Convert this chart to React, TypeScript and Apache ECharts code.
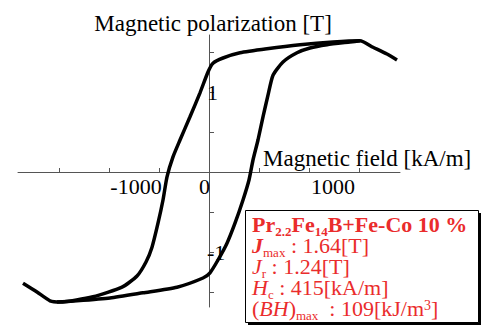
import React, { useEffect, useRef } from "react";
import * as echarts from "echarts";

// Magnetic field H [kA/m] and polarization J [T]
const descH = [1880, 1780, 1640, 1510, 1240, 910, 580, 310, 140, 40, -10, -90, -190, -290, -360, -420, -460, -510, -570, -630, -720, -870, -1160, -1490, -1590, -1720, -1860];
const descJ = [1.40, 1.475, 1.56, 1.64, 1.625, 1.59, 1.54, 1.49, 1.425, 1.36, 1.25, 0.99, 0.69, 0.40, 0.19, -0.06, -0.35, -0.64, -0.94, -1.125, -1.30, -1.44, -1.56, -1.625, -1.61, -1.50, -1.39];
const ascH = [-1520, -1320, -990, -660, -320, -60, 10, 90, 180, 260, 340, 400, 440, 490, 540, 590, 640, 740, 880, 1010, 1180, 1410, 1510];
const ascJ = [-1.625, -1.61, -1.575, -1.51, -1.44, -1.325, -1.26, -1.10, -0.89, -0.64, -0.35, -0.10, 0.15, 0.40, 0.69, 0.96, 1.21, 1.375, 1.49, 1.55, 1.59, 1.625, 1.64];

const xTicks = [-1500, -1000, -500, 0, 500, 1000, 1500];
const xLabels = [-1000, 0, 1000];
const yTicks = [-1.5, -1, -0.5, 0, 0.5, 1, 1.5];
const yLabels = [-1, 1];

const material = { a: "Pr", aSub: "2.2", b: "Fe", bSub: "14", rest: "B+Fe-Co 10 %" };
const jmax = "1.64[T]";
const jr = "1.24[T]";
const hc = "415[kA/m]";
const bhmax = "109[kJ/m";

const SERIF = "'Liberation Serif', 'Times New Roman', serif";
const RED = "#ea2c2c";

export default function App() {
  const ref = useRef<HTMLDivElement>(null);
  useEffect(() => {
    if (!ref.current) return;
    const chart = echarts.init(ref.current, undefined, { renderer: "svg" });
    const toPairs = (h: number[], j: number[]) => h.map((v, i) => [v, j[i]]);
    const base = { fontFamily: SERIF, fontSize: 22, fill: RED, lineHeight: 21 };
    const sub = { ...base, fontSize: 13, padding: [14, 0, 0, 0] };
    const text =
      `{b|${material.a}}{bs|${material.aSub}}{b|${material.b}}{bs|${material.bSub}}{b|${material.rest}}\n` +
      `{bi|J}{s|max}{n| : ${jmax}}\n` +
      `{i|J}{s|r}{n| : ${jr}}\n` +
      `{i|H}{s|c}{n| : ${hc}}\n` +
      `{n|(}{i|BH}{n|)}{s|max}{n|  : ${bhmax}}{sup|3}{n|]}`;
    chart.setOption({
      animation: false,
      grid: { left: 18, right: 91, top: 35, bottom: 18, outerBoundsMode: "none" },
      xAxis: {
        type: "value",
        min: -1910,
        max: 1910,
        position: "bottom",
        offset: -135,
        name: "Magnetic field [kA/m]",
        nameLocation: "end",
        nameGap: -137,
        nameTextStyle: { fontFamily: SERIF, fontSize: 23, color: "#000", align: "left", verticalAlign: "bottom", padding: [0, 0, 2, 0] },
        axisLine: { onZero: false, lineStyle: { color: "#555", width: 1 } },
        axisTick: { show: true, inside: true, length: 4, customValues: xTicks, lineStyle: { color: "#555" } },
        axisLabel: {
          customValues: xLabels,
          margin: 3,
          fontFamily: SERIF,
          fontSize: 22,
          color: "#000",
          formatter: (v: number) => (v === 0 ? `{z|${v}}` : v < 0 ? `{m|${v}}` : `{p|${v}}`),
          rich: {
            z: { fontFamily: SERIF, fontSize: 22, color: "#000", padding: [0, 9, 0, 0] },
            m: { fontFamily: SERIF, fontSize: 22, color: "#000", padding: [0, 0, 0, 54] },
            p: { fontFamily: SERIF, fontSize: 22, color: "#000", padding: [0, 0, 0, 48] },
          },
        },
        splitLine: { show: false },
      },
      yAxis: {
        type: "value",
        min: -1.6875,
        max: 1.7125,
        position: "left",
        offset: -191,
        name: "Magnetic polarization [T]",
        nameLocation: "end",
        nameGap: 0,
        nameTextStyle: { fontFamily: SERIF, fontSize: 23, color: "#000", padding: [0, 0, 0, 8] },
        axisLine: { onZero: false, lineStyle: { color: "#555", width: 1 } },
        axisTick: { show: true, inside: true, length: 5, customValues: yTicks, lineStyle: { color: "#555" } },
        axisLabel: {
          customValues: yLabels,
          inside: true,
          margin: -2,
          fontFamily: SERIF,
          fontSize: 22,
          color: "#000",
        },
        splitLine: { show: false },
      },
      series: [
        {
          type: "line",
          data: toPairs(descH, descJ),
          showSymbol: false,
          smooth: 0.2,
          lineStyle: { color: "#000", width: 3.5 },
        },
        {
          type: "line",
          data: toPairs(ascH, ascJ),
          showSymbol: false,
          smooth: 0.2,
          lineStyle: { color: "#000", width: 3.5 },
        },
      ],
      graphic: [
        { type: "rect", shape: { x: 248, y: 213, width: 233, height: 112 }, style: { fill: "#000" }, silent: true },
        { type: "rect", shape: { x: 245.5, y: 210.5, width: 233, height: 112 }, style: { fill: "#fff", stroke: "#000", lineWidth: 1 }, silent: true },
        {
          type: "text",
          x: 252,
          y: 214,
          silent: true,
          style: {
            text,
            ...base,
            verticalAlign: "top",
            align: "left",
            rich: {
              b: { ...base, fontWeight: "bold" },
              bs: { ...sub, fontWeight: "bold" },
              bi: { ...base, fontWeight: "bold", fontStyle: "italic" },
              i: { ...base, fontStyle: "italic" },
              n: { ...base },
              s: { ...sub },
              sup: { ...base, fontSize: 14, padding: [0, 0, 6, 0] },
            },
          },
        },
      ],
    });
    return () => chart.dispose();
  }, []);
  return (
    <div
      ref={ref}
      style={{ position: "fixed", left: 0, top: 0, width: 491, height: 325, background: "#fff" }}
    />
  );
}
